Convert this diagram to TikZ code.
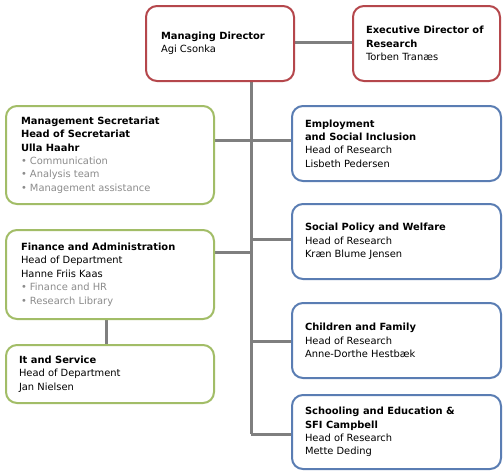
\documentclass[tikz,border=0pt]{standalone}
\usepackage{fontspec}
\setmainfont{DejaVu Sans}
\definecolor{bred}{HTML}{B5474C}
\definecolor{bgreen}{HTML}{A2BD67}
\definecolor{bblue}{HTML}{5A7DB3}
\definecolor{conn}{HTML}{7F7F7F}
\definecolor{item}{HTML}{8C8C8C}
\newcommand{\itm}[1]{{\color{item}\textbullet\ #1}}
\tikzset{
  box/.style={draw, line width=2pt, rounded corners=11pt, anchor=north west,
    inner xsep=0pt, inner ysep=0pt, align=left, fill=white,
    font=\fontsize{9.9}{13.4}\selectfont},
  redbox/.style={box, draw=bred},
  greenbox/.style={box, draw=bgreen},
  bluebox/.style={box, draw=bblue},
  link/.style={draw=conn, line width=3pt},
}
\newcommand{\bx}[4]{\begin{minipage}[c][#2pt][c]{#1pt}\hspace*{#3pt}\begin{minipage}{\dimexpr #1pt - #3pt - 4pt\relax}#4\end{minipage}\end{minipage}}
\begin{document}
\begin{tikzpicture}[x=1pt,y=-1pt]
\useasboundingbox (0,0) rectangle (503,475);
\fill[white] (0,0) rectangle (503,475);
% connector coordinates
\coordinate (t1) at (251,140);
\coordinate (t2) at (251,239);
\coordinate (t3) at (251,252);
\coordinate (t4) at (251,341);
\coordinate (t5) at (251,434);
\coordinate (t0) at (251,42);
% connectors
\draw[link] (t0 |- 0,80) -- (t5);
\draw[link] (219,42) -- (425,42);
\draw[link] (109,140) -- (t1) -- (395,140);
\draw[link] (t2) -- (395,239);
\draw[link] (109,252) -- (t3);
\draw[link] (t4) -- (395,341);
\draw[link] (t5) -- (395,434);
\draw[link] (106,300) -- (106,370);
% boxes
\node[redbox] (md) at (145,5) {\bx{148}{75}{15}{\textbf{Managing Director}\\Agi Csonka}};
\node[redbox] (ed) at (352,5) {\bx{147}{75}{13}{\textbf{Executive Director of}\\\textbf{Research}\\Torben Tranæs}};
\node[greenbox] (ms) at (5,105) {\bx{208}{98}{15}{\textbf{Management Secretariat}\\\textbf{Head of Secretariat}\\\textbf{Ulla Haahr}\\\itm{Communication}\\\itm{Analysis team}\\\itm{Management assistance}}};
\node[greenbox] (fa) at (5,229) {\bx{208}{89}{15}{\textbf{Finance and Administration}\\Head of Department\\Hanne Friis Kaas\\\itm{Finance and HR}\\\itm{Research Library}}};
\node[greenbox] (it) at (5,344) {\bx{208}{58}{13}{\textbf{It and Service}\\Head of Department\\Jan Nielsen}};
\node[bluebox] (es) at (291,105) {\bx{209}{75}{13}{\textbf{Employment}\\\textbf{and Social Inclusion}\\Head of Research\\Lisbeth Pedersen}};
\node[bluebox] (sp) at (291,203) {\bx{209}{75}{13}{\textbf{Social Policy and Welfare}\\Head of Research\\Kræn Blume Jensen}};
\node[bluebox] (cf) at (291,302) {\bx{209}{75}{13}{\textbf{Children and Family}\\Head of Research\\Anne-Dorthe Hestbæk}};
\node[bluebox] (se) at (291,394) {\bx{209}{74}{13}{\textbf{Schooling and Education \&}\\\textbf{SFI Campbell}\\Head of Research\\Mette Deding}};
\end{tikzpicture}
\end{document}
